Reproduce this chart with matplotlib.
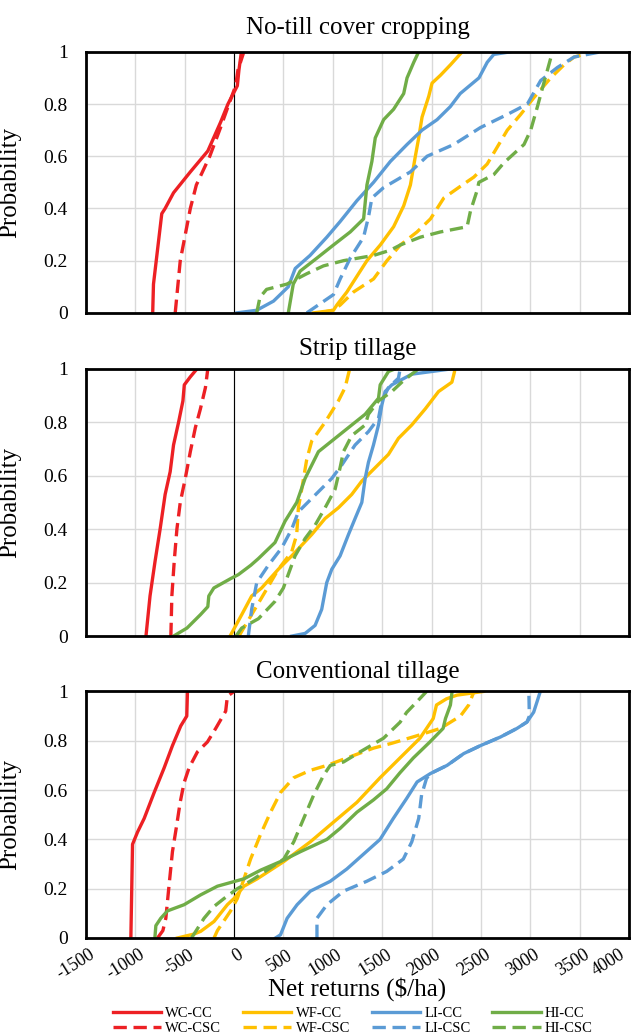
import matplotlib
matplotlib.use("Agg")
import matplotlib.pyplot as plt
from matplotlib.transforms import ScaledTranslation, blended_transform_factory

plt.rcParams['font.family'] = ['Liberation Serif', 'DejaVu Serif']

# series order: WC-CC, WC-CSC, WF-CC, WF-CSC, LI-CC, LI-CSC, HI-CC, HI-CSC
names = ['WC-CC', 'WC-CSC', 'WF-CC', 'WF-CSC', 'LI-CC', 'LI-CSC', 'HI-CC', 'HI-CSC']
titles = ['No-till cover cropping', 'Strip tillage', 'Conventional tillage']
xticks = [-1500, -1000, -500, 0, 500, 1000, 1500, 2000, 2500, 3000, 3500, 4000]
yticks = [0, 0.2, 0.4, 0.6, 0.8, 1]
ytick_labels = ['0', '0.2', '0.4', '0.6', '0.8', '1']

# ---- No-till cover cropping (net return $/ha, cumulative probability)
nt_wc_cc_x = [-823, -815, -731, -697, -612, -442, -265, -136, -61, 34, 50, 75]
nt_wc_cc_p = [0, 0.11, 0.38, 0.40, 0.46, 0.54, 0.62, 0.73, 0.80, 0.87, 0.93, 1.0]
nt_wc_csc_x = [-595, -544, -442, -381, -245, -136, -51, 17, 40, 100]
nt_wc_csc_p = [0, 0.2, 0.4, 0.49, 0.6, 0.71, 0.8, 0.87, 0.93, 1.0]
nt_wf_cc_x = [805, 1007, 1041, 1143, 1261, 1346, 1481, 1616, 1718, 1786, 1836, 1870, 1904, 1972, 2005, 2090, 2191, 2310]
nt_wf_cc_p = [0, 0.01, 0.03, 0.08, 0.15, 0.20, 0.26, 0.33, 0.41, 0.49, 0.60, 0.67, 0.75, 0.83, 0.88, 0.91, 0.95, 1.0]
nt_wf_csc_x = [870, 1000, 1075, 1210, 1413, 1549, 1684, 1853, 1989, 2124, 2293, 2428, 2563, 2665, 2767, 2902, 3037, 3206, 3341, 3443, 3646]
nt_wf_csc_p = [0, 0.01, 0.03, 0.08, 0.13, 0.20, 0.26, 0.31, 0.36, 0.44, 0.485, 0.52, 0.57, 0.635, 0.70, 0.76, 0.825, 0.90, 0.95, 0.98, 1.0]
nt_li_cc_x = [30, 230, 400, 550, 620, 770, 940, 1075, 1245, 1413, 1583, 1752, 1904, 2056, 2190, 2290, 2480, 2564, 2630, 2800]
nt_li_cc_p = [0, 0.01, 0.045, 0.10, 0.17, 0.22, 0.29, 0.35, 0.43, 0.50, 0.58, 0.645, 0.70, 0.74, 0.79, 0.84, 0.90, 0.96, 0.99, 1.0]
nt_li_csc_x = [737, 1007, 1075, 1177, 1312, 1363, 1396, 1515, 1786, 1955, 2225, 2496, 2767, 2970, 3105, 3274, 3443, 3714]
nt_li_csc_p = [0, 0.07, 0.13, 0.21, 0.29, 0.37, 0.44, 0.48, 0.54, 0.60, 0.645, 0.71, 0.76, 0.80, 0.89, 0.94, 0.98, 1.0]
nt_hi_cc_x = [550, 600, 670, 840, 1007, 1177, 1312, 1346, 1396, 1430, 1515, 1616, 1718, 1752, 1820, 1870]
nt_hi_cc_p = [0, 0.11, 0.16, 0.21, 0.26, 0.31, 0.36, 0.49, 0.58, 0.67, 0.74, 0.78, 0.84, 0.90, 0.96, 1.0]
nt_hi_csc_x = [230, 263, 330, 534, 737, 906, 1109, 1413, 1583, 1684, 1887, 2090, 2360, 2394, 2462, 2479, 2631, 2733, 2936, 3004, 3072, 3122, 3173, 3224]
nt_hi_csc_p = [0, 0.06, 0.09, 0.11, 0.15, 0.18, 0.20, 0.22, 0.24, 0.26, 0.29, 0.31, 0.33, 0.39, 0.47, 0.50, 0.53, 0.575, 0.645, 0.70, 0.79, 0.86, 0.93, 1.0]

# ---- Strip tillage
st_wc_cc_x = [-891, -850, -799, -748, -697, -646, -612, -561, -517, -503, -442, -374]
st_wc_cc_p = [0, 0.15, 0.28, 0.40, 0.53, 0.615, 0.715, 0.80, 0.88, 0.94, 0.97, 1.0]
st_wc_csc_x = [-639, -629, -605, -578, -544, -493, -442, -391, -340, -289, -265]
st_wc_csc_p = [0, 0.15, 0.28, 0.40, 0.50, 0.59, 0.69, 0.78, 0.85, 0.93, 1.0]
st_wf_cc_x = [-40, 78, 179, 280, 449, 584, 787, 922, 1057, 1192, 1294, 1429, 1564, 1665, 1800, 1936, 2071, 2206, 2233, 2230]
st_wf_cc_p = [0, 0.08, 0.15, 0.18, 0.25, 0.30, 0.38, 0.44, 0.48, 0.53, 0.58, 0.63, 0.68, 0.74, 0.79, 0.85, 0.915, 0.95, 0.99, 1.0]
st_wf_csc_x = [50, 314, 449, 584, 635, 652, 686, 736, 787, 922, 1057, 1125, 1165, 1170]
st_wf_csc_p = [0, 0.165, 0.25, 0.315, 0.38, 0.48, 0.55, 0.66, 0.73, 0.80, 0.88, 0.93, 0.99, 1.0]
st_li_cc_x = [584, 720, 821, 888, 939, 990, 1074, 1159, 1226, 1294, 1328, 1361, 1412, 1463, 1497, 1530, 1598, 1800, 2003, 2206]
st_li_cc_p = [0, 0.01, 0.04, 0.10, 0.20, 0.25, 0.30, 0.38, 0.44, 0.50, 0.59, 0.65, 0.715, 0.79, 0.865, 0.915, 0.94, 0.98, 0.99, 1.0]
st_li_csc_x = [145, 179, 230, 348, 483, 584, 652, 787, 990, 1091, 1226, 1361, 1463, 1497, 1564, 1665, 1682]
st_li_csc_p = [0, 0.10, 0.20, 0.265, 0.33, 0.40, 0.465, 0.515, 0.59, 0.64, 0.715, 0.765, 0.815, 0.88, 0.93, 0.965, 1.0]
st_hi_cc_x = [-612, -476, -340, -265, -255, -204, -34, 44, 170, 247, 415, 517, 635, 720, 855, 990, 1159, 1328, 1463, 1480, 1564, 1632]
st_hi_cc_p = [0, 0.03, 0.08, 0.11, 0.15, 0.18, 0.215, 0.23, 0.265, 0.29, 0.35, 0.43, 0.50, 0.59, 0.69, 0.73, 0.78, 0.83, 0.89, 0.94, 0.99, 1.0]
st_hi_csc_x = [20, 78, 247, 415, 500, 534, 618, 720, 821, 922, 1024, 1074, 1108, 1192, 1328, 1361, 1463, 1598, 1699, 1800, 1868]
st_hi_csc_p = [0, 0.03, 0.065, 0.13, 0.18, 0.215, 0.30, 0.365, 0.415, 0.48, 0.55, 0.63, 0.69, 0.75, 0.79, 0.83, 0.88, 0.915, 0.95, 0.98, 1.0]

# ---- Conventional tillage
ct_wc_cc_x = [-1044, -1027, -976, -909, -808, -707, -623, -539, -478, -471]
ct_wc_cc_p = [0, 0.38, 0.43, 0.485, 0.59, 0.69, 0.78, 0.86, 0.90, 1.0]
ct_wc_csc_x = [-774, -720, -690, -657, -623, -579, -545, -505, -455, -370, -269, -185, -84, -67, 0]
ct_wc_csc_p = [0, 0.03, 0.08, 0.215, 0.35, 0.46, 0.55, 0.63, 0.69, 0.755, 0.795, 0.85, 0.92, 0.98, 1.0]
ct_wf_cc_x = [-573, -404, -337, -202, -67, 0, 101, 235, 504, 773, 1008, 1244, 1479, 1680, 1882, 2017, 2050, 2151, 2258, 2528]
ct_wf_cc_p = [0, 0.016, 0.027, 0.067, 0.135, 0.16, 0.21, 0.24, 0.31, 0.39, 0.47, 0.55, 0.65, 0.73, 0.81, 0.89, 0.945, 0.97, 0.985, 1.0]
ct_wf_csc_x = [-202, -168, -34, 34, 101, 168, 269, 370, 471, 605, 773, 941, 1176, 1412, 1600, 1850, 2090, 2292, 2376, 2430]
ct_wf_csc_p = [0, 0.03, 0.11, 0.16, 0.24, 0.32, 0.42, 0.51, 0.59, 0.65, 0.68, 0.70, 0.735, 0.77, 0.79, 0.82, 0.85, 0.90, 0.945, 1.0]
ct_li_cc_x = [420, 471, 538, 639, 773, 975, 1143, 1311, 1479, 1613, 1748, 1854, 1989, 2157, 2326, 2494, 2697, 2865, 2966, 3034, 3067, 3101]
ct_li_cc_p = [0, 0.013, 0.08, 0.135, 0.19, 0.23, 0.28, 0.34, 0.40, 0.485, 0.566, 0.633, 0.667, 0.70, 0.748, 0.78, 0.815, 0.85, 0.876, 0.916, 0.957, 1.0]
ct_li_csc_x = [840, 840, 941, 1109, 1344, 1546, 1714, 1800, 1870, 1899, 1949, 1989, 2157, 2326, 2494, 2697, 2865, 2966, 2990, 2985]
ct_li_csc_p = [0, 0.08, 0.135, 0.19, 0.23, 0.27, 0.32, 0.39, 0.485, 0.58, 0.647, 0.667, 0.70, 0.748, 0.78, 0.815, 0.85, 0.876, 0.90, 1.0]
ct_hi_cc_x = [-801, -791, -741, -673, -505, -337, -168, 101, 269, 471, 672, 941, 1076, 1244, 1412, 1546, 1680, 1815, 1983, 2117, 2141, 2191, 2208]
ct_hi_cc_p = [0, 0.05, 0.08, 0.11, 0.135, 0.175, 0.21, 0.24, 0.275, 0.31, 0.35, 0.40, 0.445, 0.51, 0.56, 0.605, 0.67, 0.73, 0.795, 0.85, 0.89, 0.945, 1.0]
ct_hi_csc_x = [-430, -303, -202, -101, 34, 101, 202, 504, 605, 706, 807, 907, 975, 1109, 1277, 1513, 1681, 1748, 1849, 1950]
ct_hi_csc_p = [0, 0.08, 0.128, 0.16, 0.20, 0.215, 0.24, 0.32, 0.39, 0.485, 0.58, 0.66, 0.70, 0.714, 0.755, 0.81, 0.875, 0.915, 0.957, 1.0]

panels = [
    [(nt_wc_cc_x, nt_wc_cc_p), (nt_wc_csc_x, nt_wc_csc_p), (nt_wf_cc_x, nt_wf_cc_p), (nt_wf_csc_x, nt_wf_csc_p),
     (nt_li_cc_x, nt_li_cc_p), (nt_li_csc_x, nt_li_csc_p), (nt_hi_cc_x, nt_hi_cc_p), (nt_hi_csc_x, nt_hi_csc_p)],
    [(st_wc_cc_x, st_wc_cc_p), (st_wc_csc_x, st_wc_csc_p), (st_wf_cc_x, st_wf_cc_p), (st_wf_csc_x, st_wf_csc_p),
     (st_li_cc_x, st_li_cc_p), (st_li_csc_x, st_li_csc_p), (st_hi_cc_x, st_hi_cc_p), (st_hi_csc_x, st_hi_csc_p)],
    [(ct_wc_cc_x, ct_wc_cc_p), (ct_wc_csc_x, ct_wc_csc_p), (ct_wf_cc_x, ct_wf_cc_p), (ct_wf_csc_x, ct_wf_csc_p),
     (ct_li_cc_x, ct_li_cc_p), (ct_li_csc_x, ct_li_csc_p), (ct_hi_cc_x, ct_hi_cc_p), (ct_hi_csc_x, ct_hi_csc_p)],
]

colors = ['#ED2024', '#ED2024', '#FFC000', '#FFC000', '#5B9BD5', '#5B9BD5', '#70AD47', '#70AD47']

fig = plt.figure(figsize=(6.31, 10.36), dpi=100)
rects = [[0.136, 0.698, 0.861, 0.252],
         [0.136, 0.386, 0.861, 0.258],
         [0.136, 0.0946, 0.861, 0.238]]
title_pads = [13, 10, 10]

axes = []
for k in range(3):
    ax = fig.add_axes(rects[k])
    axes.append(ax)
    for i, (xs, ps) in enumerate(panels[k]):
        if i % 2 == 1:
            ax.plot(xs, ps, color=colors[i], lw=2.4, dashes=(4, 2), label=names[i])
        else:
            ax.plot(xs, ps, color=colors[i], lw=2.4, solid_joinstyle='round', label=names[i])
    ax.axvline(0, color='black', lw=0.8, zorder=1.5)
    ax.set_xlim(-1500, 4000)
    ax.set_ylim(0, 1)
    ax.set_xticks(xticks)
    ax.set_yticks(yticks)
    ax.set_yticklabels(ytick_labels)
    ax.set_xticklabels([])
    ax.grid(True, color='#D9D9D9', lw=1)
    ax.set_axisbelow(True)
    for s in ax.spines.values():
        s.set_linewidth(2)
        s.set_color('black')
    ax.tick_params(length=0, labelsize=14)
    ax.tick_params(axis='y', pad=13)
    ax.set_title(titles[k], fontsize=18, pad=title_pads[k])
    ax.set_ylabel('Probability', fontsize=18)
    ax.yaxis.set_label_coords(-0.118, 0.5)

# rotated x tick labels on the bottom panel, drawn as texts so they can be nudged
ax = axes[2]
base = blended_transform_factory(ax.transData, ax.transAxes)
for v in xticks:
    dx = -7 if v == xticks[-1] else 2.5
    off = ScaledTranslation(dx / 72, -6 / 72, fig.dpi_scale_trans)
    ax.text(v, 0, str(v), transform=base + off, rotation=32, rotation_mode='anchor',
            ha='right', va='top', fontsize=13, clip_on=False)
ax.set_xlabel('Net returns ($/ha)', fontsize=18)
ax.xaxis.set_label_coords(0.5, -0.16)

handles, labels = ax.get_legend_handles_labels()
fig.legend(handles, labels, loc='center', bbox_to_anchor=(0.559, 0.0145), ncol=4,
           frameon=False, fontsize=10.5, handlelength=3.3, handletextpad=0.3,
           columnspacing=1.5, labelspacing=0.1, borderpad=0)

fig.savefig('out.png', dpi=100)
